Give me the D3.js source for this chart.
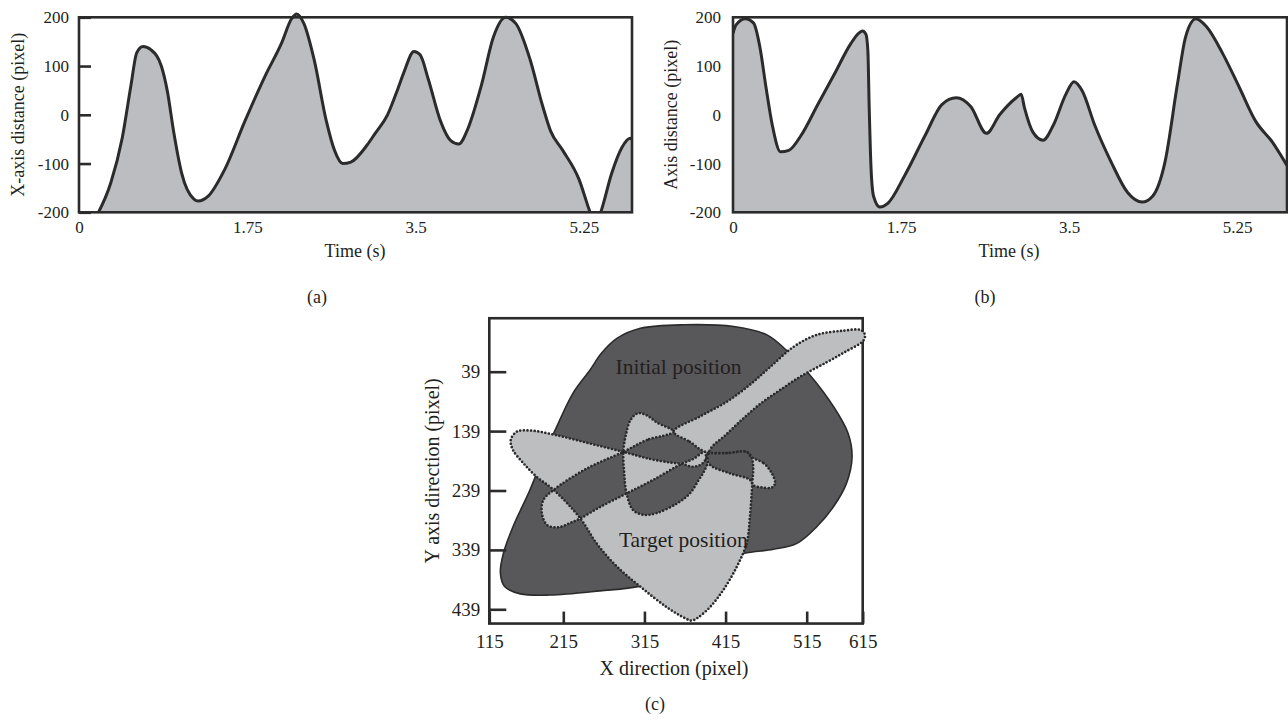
<!DOCTYPE html>
<html>
<head>
<meta charset="utf-8">
<script src="https://cdn.jsdelivr.net/npm/d3@7"></script>
<style>
  body { margin: 0; background: #fff; }
  text { font-family: "Liberation Serif", "Times New Roman", serif; fill: #231f20; }
</style>
</head>
<body>
<div id="chart"></div>
<script>
// ---------- data ----------
var timeTicks = [0, 1.75, 3.5, 5.25];
var distTicks = [-200, -100, 0, 100, 200];

// panel (a): x-axis distance over time
var timeA = [0.19, 0.33, 0.45, 0.54, 0.60, 0.665, 0.75, 0.856, 0.92, 0.983, 1.068, 1.195, 1.24, 1.343, 1.513, 1.725,
             1.936, 2.106, 2.21, 2.263, 2.339, 2.445, 2.572, 2.657, 2.742, 2.826, 2.996, 3.08, 3.208, 3.315, 3.378,
             3.483, 3.547, 3.632, 3.759, 3.865, 3.95, 4.034, 4.183, 4.31, 4.437, 4.543, 4.691, 4.818, 4.903, 5.03,
             5.2, 5.305, 5.37, 5.433, 5.539, 5.645, 5.73, 5.75];
var distA = [-205, -140, -47, 60, 127, 140, 133, 100, 47, -33, -120, -173, -177, -167, -113, -13,
             80, 147, 197, 207, 187, 113, -13, -73, -100, -97, -62, -38, 0, 53, 87,
             130, 123, 73, -13, -53, -60, -33, 60, 160, 200, 187, 113, 20, -33, -73,
             -133, -195, -230, -195, -120, -67, -48, -50];

// panel (b): axis distance over time
var timeB = [0, 0.03, 0.129, 0.215, 0.28, 0.344, 0.409, 0.495, 0.581, 0.71, 0.883, 1.055, 1.227, 1.313, 1.35, 1.385,
             1.405, 1.418, 1.438, 1.464, 1.529, 1.615, 1.787, 2.002, 2.175, 2.325, 2.476, 2.64, 2.777, 2.95, 3.001,
             3.036, 3.122, 3.229, 3.337, 3.466, 3.552, 3.638, 3.767, 3.939, 4.112, 4.262, 4.37, 4.499, 4.628, 4.714,
             4.822, 4.93, 5.102, 5.274, 5.446, 5.618, 5.77];
var distB = [167, 184, 197, 188, 139, 56, -21, -76, -73, -42, 21, 83, 146, 168, 172, 165,
             130, 20, -111, -167, -189, -181, -125, -42, 21, 35, 17, -38, 0, 35, 42,
             14, -35, -52, -21, 42, 68, 49, -21, -97, -160, -179, -167, -97, 62, 160,
             197, 181, 125, 56, -14, -56, -104];

// panel (c): positions in pixel units
var xDirTicks = [115, 215, 315, 415, 515, 615];
var yDirTicks = [39, 139, 239, 339, 439];

var initialShape = [[262, 8], [281, -17], [310, -34], [363, -40], [425, -37], [466, -23], [490, 3], [521, 45],
  [563, 98], [589, 143], [596, 182], [586, 227], [563, 266], [533, 300], [503, 328], [474, 338], [437, 345],
  [371, 373], [310, 400], [260, 408], [197, 415], [157, 413], [136, 401], [130, 378], [134, 345], [147, 300],
  [170, 238], [188, 182], [206, 132], [227, 75], [248, 36]];

var targetOuter = [[351, 140], [371, 157], [390, 174], [417, 176], [441, 174], [447, 183], [449, 199], [448, 226],
  [445, 283], [441, 328], [429, 367], [412, 407], [396, 435], [381, 453], [373, 458], [365, 454], [342, 435],
  [310, 401], [281, 367], [256, 328], [236, 286], [202, 238], [179, 216], [161, 193], [147, 171], [144, 154],
  [152, 140], [170, 138], [206, 146], [248, 160], [289, 174], [322, 186], [347, 192], [361, 194], [375, 199],
  [387, 193], [398, 166], [414, 147], [435, 120], [458, 93], [482, 70], [510, 45], [551, 23], [583, 6],
  [616, -13], [619, -23], [612, -31], [580, -30], [533, -23], [499, -3], [470, 31], [445, 61], [416, 90], [384, 114]];

var targetMiddle = [[351, 140], [318, 154], [289, 174], [244, 202], [202, 238], [188, 255], [186, 277], [193, 297],
  [208, 301], [223, 294], [236, 286], [260, 267], [293, 244], [326, 221], [361, 194], [375, 186], [390, 174],
  [393, 191], [388, 208], [382, 221], [371, 244], [355, 261], [330, 277], [314, 280], [301, 272], [293, 244],
  [290, 208], [289, 174], [292, 146], [298, 120], [307, 109], [317, 112], [331, 125]];

var targetRight = [[447, 183], [462, 193], [472, 210], [476, 227], [472, 234], [460, 234], [449, 230], [445, 221],
  [420, 210], [396, 196], [391, 179], [417, 176], [441, 174]];

var shapeLabels = ["Initial position", "Target position"];
var shapeLabelPos = [[357, 31], [363, 322]];

// ---------- drawing ----------
var ink = "#2b2b2b";
var svg = d3.select("#chart").append("svg")
    .attr("width", 1288)
    .attr("height", 720)
    .style("background", "#fff");

function styleAxis(g, size) {
    g.select(".domain").remove();
    g.attr("font-family", "Liberation Serif, Times New Roman, serif")
     .attr("font-size", size)
     .attr("color", ink);
    g.selectAll("line").attr("stroke-width", 2.6);
}

function timePanel(p, times, dists) {
    var x = d3.scaleLinear().domain([0, p.xMax]).range([p.left, p.right]);
    var y = d3.scaleLinear().domain([-200, 200]).range([p.bottom, p.top]);
    var pts = times.map(function (t, i) { return [t, dists[i]]; });

    svg.append("clipPath").attr("id", "clip" + p.name)
        .append("rect")
        .attr("x", p.left).attr("y", 0)
        .attr("width", p.right - p.left).attr("height", y(-200));

    var area = d3.area()
        .x(function (d) { return x(d[0]); })
        .y0(y(-200))
        .y1(function (d) { return y(d[1]); })
        .curve(d3.curveMonotoneX);
    var line = d3.line()
        .x(function (d) { return x(d[0]); })
        .y(function (d) { return y(d[1]); })
        .curve(d3.curveMonotoneX);

    svg.append("path").datum(pts)
        .attr("d", area)
        .attr("fill", "#bcbdc0")
        .attr("clip-path", "url(#clip" + p.name + ")");

    svg.append("path").datum(pts)
        .attr("d", line)
        .attr("fill", "none")
        .attr("stroke", ink)
        .attr("stroke-width", 3)
        .attr("clip-path", "url(#clip" + p.name + ")");

    // frame
    svg.append("rect")
        .attr("x", x(0)).attr("y", y(200))
        .attr("width", x(p.xMax) - x(0))
        .attr("height", y(-200) - y(200))
        .attr("fill", "none")
        .attr("stroke", ink)
        .attr("stroke-width", 2.6);

    svg.append("g")
        .attr("transform", "translate(" + x(0) + ",0)")
        .call(d3.axisLeft(y).tickValues(distTicks).tickSize(p.ticks ? -12 : 0)
            .tickPadding(p.pad).tickFormat(function (d) { return d; }))
        .call(styleAxis, 17);

    svg.append("g")
        .attr("transform", "translate(0," + y(-200) + ")")
        .call(d3.axisBottom(x).tickValues(timeTicks).tickSize(0)
            .tickPadding(9).tickFormat(function (d) { return d; }))
        .call(styleAxis, 17);

    svg.append("text")
        .attr("transform", "translate(" + p.yTitleX + "," + (y(-200) + y(200)) / 2 + ") rotate(-90)")
        .attr("text-anchor", "middle")
        .attr("dominant-baseline", "central")
        .attr("font-size", 18)
        .text(p.yTitle);

    svg.append("text")
        .attr("x", p.xTitleX).attr("y", 251)
        .attr("text-anchor", "middle")
        .attr("dominant-baseline", "central")
        .attr("font-size", 18)
        .text("Time (s)");

    svg.append("text")
        .attr("x", p.letterX).attr("y", 297)
        .attr("text-anchor", "middle")
        .attr("dominant-baseline", "central")
        .attr("font-size", 18)
        .text("(" + p.name + ")");
}

timePanel({ name: "a", left: 79, right: 632, top: 17.3, bottom: 212.3, xMax: 5.75, ticks: true, pad: 10,
            yTitle: "X-axis distance (pixel)", yTitleX: 17.5, xTitleX: 355, letterX: 317 }, timeA, distA);
timePanel({ name: "b", left: 733, right: 1287, top: 17.3, bottom: 212.3, xMax: 5.77, ticks: false, pad: 12,
            yTitle: "Axis distance (pixel)", yTitleX: 671, xTitleX: 1009, letterX: 985 }, timeB, distB);

// ---------- panel (c) ----------
var xC = d3.scaleLinear().domain([115, 215, 515, 615]).range([489.3, 563.3, 806.7, 862.7]);
var yC = d3.scaleLinear().domain([39, 439]).range([371.7, 609.3]);
var frameTop = yC(-51), frameBottom = yC(463);

svg.append("rect")
    .attr("x", xC(115)).attr("y", frameTop)
    .attr("width", xC(615) - xC(115)).attr("height", frameBottom - frameTop)
    .attr("fill", "#fff")
    .attr("stroke", ink)
    .attr("stroke-width", 2.6);

var blob = d3.line()
    .x(function (d) { return xC(d[0]); })
    .y(function (d) { return yC(d[1]); })
    .curve(d3.curveCatmullRomClosed.alpha(0.5));

svg.append("path").datum(initialShape)
    .attr("d", blob)
    .attr("fill", "#58585a")
    .attr("stroke", ink)
    .attr("stroke-width", 1.6);

var targetD = [targetOuter, targetMiddle, targetRight].map(function (loop) { return blob(loop); }).join(" ");

svg.append("path")
    .attr("d", targetD)
    .attr("fill", "#bdbec0")
    .attr("fill-rule", "evenodd");

svg.append("path")
    .attr("d", targetD)
    .attr("fill", "none")
    .attr("stroke", "#2a2a2a")
    .attr("stroke-width", 2.7)
    .attr("stroke-linecap", "round")
    .attr("stroke-dasharray", "0 3.6");

svg.selectAll(".shape-label")
    .data(shapeLabels)
    .enter()
    .append("text")
    .attr("class", "shape-label")
    .attr("x", function (d, i) { return xC(shapeLabelPos[i][0]); })
    .attr("y", function (d, i) { return yC(shapeLabelPos[i][1]); })
    .attr("text-anchor", "middle")
    .attr("dominant-baseline", "central")
    .attr("font-size", 21.5)
    .text(function (d) { return d; });

svg.append("g")
    .attr("transform", "translate(" + xC(115) + ",0)")
    .call(d3.axisLeft(yC).tickValues(yDirTicks).tickSize(-17).tickPadding(9)
        .tickFormat(function (d) { return d; }))
    .call(styleAxis, 19);

svg.append("g")
    .attr("transform", "translate(0," + frameBottom + ")")
    .call(d3.axisBottom(xC).tickValues(xDirTicks).tickSize(-12).tickPadding(11)
        .tickFormat(function (d) { return d; }))
    .call(styleAxis, 19);

svg.append("text")
    .attr("transform", "translate(432," + (frameTop + frameBottom) / 2 + ") rotate(-90)")
    .attr("text-anchor", "middle")
    .attr("dominant-baseline", "central")
    .attr("font-size", 20)
    .text("Y axis direction (pixel)");

svg.append("text")
    .attr("x", 674).attr("y", 668)
    .attr("text-anchor", "middle")
    .attr("dominant-baseline", "central")
    .attr("font-size", 20)
    .text("X direction (pixel)");

svg.append("text")
    .attr("x", 655).attr("y", 704)
    .attr("text-anchor", "middle")
    .attr("dominant-baseline", "central")
    .attr("font-size", 18)
    .text("(c)");
</script>
</body>
</html>
